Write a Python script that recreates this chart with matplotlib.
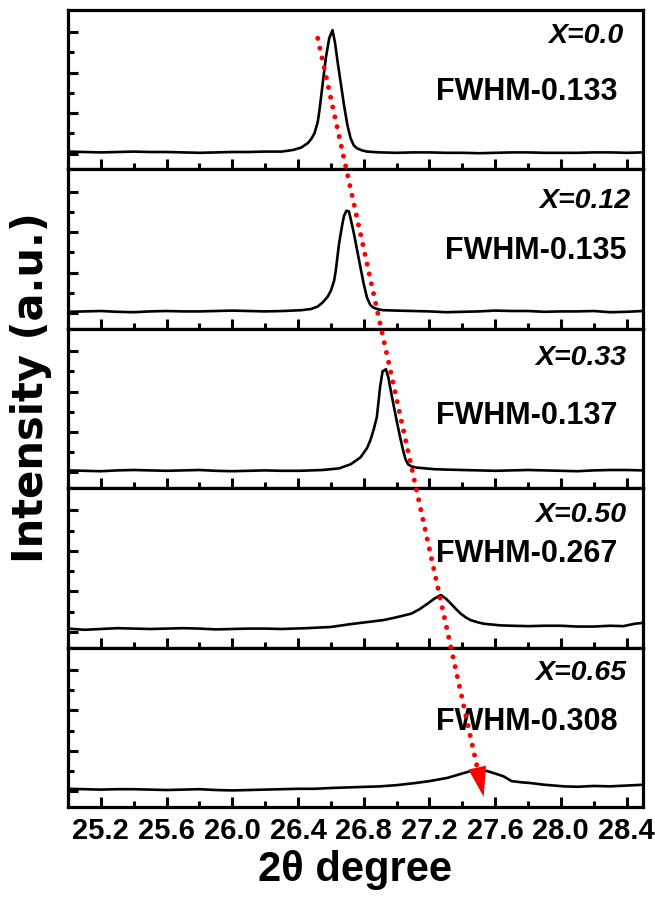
import numpy as np
import matplotlib
matplotlib.use("Agg")
import matplotlib.pyplot as plt
from matplotlib.ticker import MultipleLocator, FixedLocator
from matplotlib.lines import Line2D
from matplotlib.patches import Polygon

plt.rcParams['font.family'] = ['Liberation Sans', 'DejaVu Sans']
plt.rcParams['font.weight'] = 'bold'

# dados (2theta, intensidade)
x_00 = [25.0, 25.1, 25.2, 25.3, 25.4, 25.5, 25.6, 25.7, 25.8, 25.9, 26.0, 26.1, 26.2, 26.3,
        26.37, 26.42, 26.46, 26.48, 26.50, 26.52, 26.53, 26.55, 26.57, 26.59, 26.61, 26.625,
        26.64, 26.66, 26.68, 26.70, 26.72, 26.74, 26.76, 26.79, 26.82, 26.9, 27.0, 27.1, 27.2,
        27.3, 27.4, 27.5, 27.6, 27.7, 27.8, 27.9, 28.0, 28.1, 28.2, 28.3, 28.4, 28.5]
y_00 = [0.05, 0.04, 0.03, 0.04, 0.05, 0.04, 0.04, 0.03, 0.02, 0.03, 0.04, 0.04, 0.05, 0.05,
        0.09, 0.15, 0.26, 0.36, 0.50, 0.78, 1.05, 1.72, 2.38, 2.85, 3.05, 2.75,
        2.30, 1.75, 1.20, 0.72, 0.38, 0.20, 0.13, 0.08, 0.05, 0.03, 0.02, 0.03, 0.03,
        0.02, 0.02, 0.01, 0.02, 0.03, 0.03, 0.02, 0.02, 0.02, 0.03, 0.03, 0.02, 0.03]

x_12 = [25.0, 25.1, 25.2, 25.3, 25.4, 25.5, 25.6, 25.7, 25.8, 25.9, 26.0, 26.1, 26.2, 26.31,
        26.42, 26.48, 26.52, 26.55, 26.58, 26.60, 26.62, 26.63, 26.65, 26.67, 26.68, 26.695,
        26.71, 26.725, 26.74, 26.76, 26.78, 26.80, 26.82, 26.84, 26.86, 26.89, 26.92, 27.0,
        27.1, 27.2, 27.3, 27.4, 27.5, 27.6, 27.7, 27.8, 27.9, 28.0, 28.1, 28.2, 28.3, 28.4, 28.5]
y_12 = [0.03, 0.04, 0.05, 0.03, 0.02, 0.04, 0.05, 0.04, 0.04, 0.05, 0.06, 0.05, 0.04, 0.05,
        0.07, 0.10, 0.16, 0.26, 0.40, 0.55, 0.80, 1.05, 1.72, 2.20, 2.40, 2.53,
        2.51, 2.25, 1.97, 1.55, 1.13, 0.72, 0.38, 0.20, 0.13, 0.09, 0.07, 0.06,
        0.05, 0.04, 0.02, 0.03, 0.04, 0.06, 0.05, 0.05, 0.03, 0.04, 0.04, 0.05, 0.02, 0.03, 0.05]

x_33 = [25.0, 25.1, 25.2, 25.3, 25.4, 25.5, 25.6, 25.7, 25.8, 25.9, 26.0, 26.1, 26.2, 26.3,
        26.41, 26.55, 26.65, 26.72, 26.78, 26.82, 26.84, 26.86, 26.88, 26.90, 26.915, 26.935,
        26.95, 26.96, 26.98, 27.00, 27.02, 27.04, 27.055, 27.07, 27.09, 27.12, 27.23, 27.3,
        27.4, 27.5, 27.6, 27.7, 27.8, 27.9, 28.0, 28.1, 28.2, 28.3, 28.4, 28.5]
y_33 = [0.05, 0.04, 0.03, 0.05, 0.06, 0.05, 0.04, 0.05, 0.06, 0.04, 0.03, 0.04, 0.05, 0.04,
        0.04, 0.06, 0.10, 0.20, 0.37, 0.60, 0.79, 1.05, 1.37, 2.12, 2.50, 2.55,
        2.35, 2.12, 1.70, 1.29, 0.90, 0.54, 0.32, 0.20, 0.15, 0.12, 0.08, 0.07,
        0.06, 0.05, 0.04, 0.05, 0.06, 0.05, 0.04, 0.03, 0.05, 0.06, 0.06, 0.05]

x_50 = [25.0, 25.1, 25.2, 25.3, 25.4, 25.5, 25.6, 25.7, 25.8, 25.9, 26.0, 26.1, 26.2, 26.3,
        26.45, 26.6, 26.72, 26.82, 26.92, 27.0, 27.09, 27.14, 27.19, 27.23, 27.27, 27.30,
        27.33, 27.36, 27.39, 27.42, 27.45, 27.49, 27.53, 27.63, 27.7, 27.8, 27.9, 28.0,
        28.1, 28.2, 28.3, 28.38, 28.45, 28.5]
y_50 = [0.08, 0.05, 0.07, 0.09, 0.08, 0.07, 0.08, 0.09, 0.08, 0.06, 0.07, 0.08, 0.08, 0.07,
        0.09, 0.12, 0.19, 0.24, 0.29, 0.36, 0.45, 0.56, 0.70, 0.82, 0.91, 0.82,
        0.70, 0.57, 0.45, 0.36, 0.29, 0.24, 0.20, 0.16, 0.15, 0.14, 0.15, 0.15,
        0.13, 0.13, 0.15, 0.14, 0.20, 0.22]

x_65 = [25.0, 25.1, 25.2, 25.3, 25.4, 25.5, 25.6, 25.7, 25.8, 25.9, 26.0, 26.1, 26.2, 26.3,
        26.4, 26.5, 26.6, 26.75, 26.90, 27.0, 27.11, 27.2, 27.31, 27.41, 27.46, 27.55,
        27.59, 27.65, 27.70, 27.76, 27.82, 27.9, 28.02, 28.1, 28.2, 28.3, 28.4, 28.5]
y_65 = [0.06, 0.05, 0.04, 0.05, 0.05, 0.04, 0.03, 0.04, 0.05, 0.03, 0.02, 0.03, 0.04, 0.05,
        0.06, 0.06, 0.08, 0.10, 0.12, 0.15, 0.20, 0.25, 0.33, 0.45, 0.51, 0.50,
        0.45, 0.37, 0.25, 0.22, 0.20, 0.16, 0.12, 0.11, 0.13, 0.12, 0.14, 0.16]

composicoes = ['X=0.0', 'X=0.12', 'X=0.33', 'X=0.50', 'X=0.65']
fwhm = ['FWHM-0.133', 'FWHM-0.135', 'FWHM-0.137', 'FWHM-0.267', 'FWHM-0.308']
todos_x = [x_00, x_12, x_33, x_50, x_65]
todos_y = [y_00, y_12, y_33, y_50, y_65]

# posicoes dos textos (fracao do eixo)
pos_comp = [(0.967, 0.835), (0.978, 0.80), (0.972, 0.818), (0.972, 0.835), (0.972, 0.84)]
pos_fwhm = [(0.956, 0.486), (0.972, 0.49), (0.955, 0.454), (0.956, 0.585), (0.956, 0.533)]

# seta: inicio no primeiro painel, ponta no ultimo
seta_ini = (26.52, 2.85)
seta_fim = (27.53, -0.14)

fig = plt.figure(figsize=(6.55, 8.97), dpi=100)
esq, larg = 68 / 655, 575 / 655
topo, base = 1 - 10 / 897, 1 - 807 / 897
alt = (topo - base) / 5

eixos = []
for i in range(5):
    ax = fig.add_axes([esq, topo - (i + 1) * alt, larg, alt])
    ax.plot(todos_x[i], todos_y[i], color='black', lw=1.9)
    ax.set_xlim(25.0, 28.5)
    ax.set_ylim(-0.39, 3.55)
    ax.xaxis.set_major_locator(MultipleLocator(0.4))
    ax.xaxis.set_minor_locator(MultipleLocator(0.2))
    ax.yaxis.set_major_locator(MultipleLocator(1))
    ax.yaxis.set_minor_locator(FixedLocator([0.5, 1.5, 2.5]))
    ax.tick_params(which='both', direction='in', top=False, right=False, width=2.2)
    ax.tick_params(which='major', length=7.5)
    ax.tick_params(which='minor', length=4.5)
    ax.tick_params(axis='y', labelleft=False)
    ax.tick_params(axis='x', labelsize=21, pad=7)
    for s in ax.spines.values():
        s.set_linewidth(2.3)
    if i < 4:
        ax.tick_params(axis='x', labelbottom=False)
    else:
        for lab in ax.get_xticklabels():
            lab.set_fontweight('bold')
    ax.text(pos_comp[i][0], pos_comp[i][1], composicoes[i], transform=ax.transAxes,
            ha='right', va='center', fontsize=20.5, fontweight='bold', fontstyle='italic')
    ax.text(pos_fwhm[i][0], pos_fwhm[i][1], fwhm[i], transform=ax.transAxes,
            ha='right', va='center', fontsize=22, fontweight='bold')
    eixos.append(ax)

eixos[-1].set_xlabel('2\u03b8 degree', fontsize=30, fontweight='bold', labelpad=4)
fig.text(31 / 655, 1 - 388 / 897, 'Intensity (a.u.)', rotation=90, ha='center', va='center',
         fontsize=30, fontweight='bold', family='DejaVu Sans')

# seta pontilhada vermelha
p0 = eixos[0].transData.transform(seta_ini)
p1 = eixos[-1].transData.transform(seta_fim)
u = (p1 - p0) / np.hypot(*(p1 - p0))
n = np.array([-u[1], u[0]])
b = p1 - 30 * u
inv = fig.transFigure.inverted()
q0, qb = inv.transform(p0), inv.transform(b)
linha = Line2D([q0[0], qb[0]], [q0[1], qb[1]], transform=fig.transFigure, color='red',
               lw=3.6, linestyle=(0, (0.01, 2.0)), dash_capstyle='round')
fig.add_artist(linha)
cabeca = Polygon(inv.transform([b + 9 * n, b - 9 * n, p1]), closed=True, transform=fig.transFigure,
                 color='red', lw=0)
fig.add_artist(cabeca)

plt.savefig('out.png', dpi=100)
